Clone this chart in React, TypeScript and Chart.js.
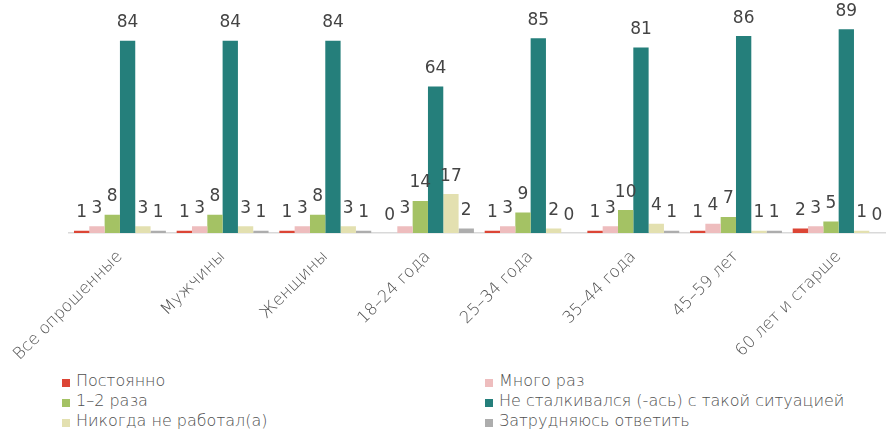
import React, { useEffect, useRef } from 'react';
import { Chart, registerables } from 'chart.js';

Chart.register(...registerables);

const categories = [
  'Все опрошенные',
  'Мужчины',
  'Женщины',
  '18–24 года',
  '25–34 года',
  '35–44 года',
  '45–59 лет',
  '60 лет и старше',
];

const seriesNames = [
  'Постоянно',
  'Много раз',
  '1–2 раза',
  'Не сталкивался (-ась) с такой ситуацией',
  'Никогда не работал(а)',
  'Затрудняюсь ответить',
];

const postoyanno = [1, 1, 1, 0, 1, 1, 1, 2];
const mnogoRaz = [3, 3, 3, 3, 3, 3, 4, 3];
const odinDvaRaza = [8, 8, 8, 14, 9, 10, 7, 5];
const neStalkivalsya = [84, 84, 84, 64, 85, 81, 86, 89];
const nikogdaNeRabotal = [3, 3, 3, 17, 2, 4, 1, 1];
const zatrudnyayus = [1, 1, 1, 2, 0, 1, 1, 0];

const seriesValues = [postoyanno, mnogoRaz, odinDvaRaza, neStalkivalsya, nikogdaNeRabotal, zatrudnyayus];
const seriesColors = ['#DC4535', '#EEBDBE', '#A4C264', '#257F7B', '#E3E0B0', '#ADADAD'];

const FONT = '"DejaVu Sans", "Open Sans", sans-serif';

const valueLabels = {
  id: 'valueLabels',
  afterDatasetsDraw(chart: any) {
    const ctx = chart.ctx;
    ctx.save();
    ctx.font = `17px ${FONT}`;
    ctx.fillStyle = '#444444';
    ctx.textAlign = 'center';
    ctx.textBaseline = 'alphabetic';
    chart.data.datasets.forEach((ds: any, i: number) => {
      const meta = chart.getDatasetMeta(i);
      meta.data.forEach((bar: any, j: number) => {
        ctx.fillText(String(ds.data[j]), bar.x, bar.y - 13.5);
      });
    });
    ctx.restore();
  },
};

export default function App() {
  const canvasRef = useRef<HTMLCanvasElement | null>(null);

  useEffect(() => {
    if (!canvasRef.current) return;
    const chart = new Chart(canvasRef.current, {
      type: 'bar',
      data: {
        labels: categories,
        datasets: seriesNames.map((name, i) => ({
          label: name,
          data: seriesValues[i],
          backgroundColor: seriesColors[i],
          borderWidth: 0,
          categoryPercentage: 0.895,
          barPercentage: 1,
        })),
      },
      options: {
        animation: false,
        responsive: false,
        maintainAspectRatio: false,
        layout: { padding: { left: 68.6, right: 2, top: 4, bottom: 0 } },
        plugins: {
          legend: { display: false },
          tooltip: { enabled: false },
        },
        scales: {
          x: {
            grid: { display: false },
            border: { display: true, color: '#D9D9D9', width: 1.5 },
            ticks: {
              autoSkip: false,
              minRotation: 45,
              maxRotation: 45,
              padding: 6,
              color: '#505050',
              font: { family: FONT, size: 16.5, weight: '200' as any },
            },
            afterFit: (scale: any) => {
              scale.height = 127;
            },
          },
          y: {
            display: false,
            min: 0,
            max: 100,
          },
        },
      },
      plugins: [valueLabels],
    });
    return () => chart.destroy();
  }, []);

  const legendRows = [
    [0, 1],
    [2, 3],
    [4, 5],
  ];
  const colX = [{ sq: 62, tx: 76 }, { sq: 485, tx: 499 }];

  return (
    <div
      style={{
        position: 'fixed',
        left: 0,
        top: 0,
        width: 886,
        height: 430,
        overflow: 'hidden',
        background: '#fff',
      }}
    >
      <div style={{ position: 'absolute', left: 0, top: 0, width: 892, height: 360 }}>
        <canvas ref={canvasRef} width={892} height={360} style={{ display: 'block', width: 892, height: 360 }} />
      </div>
      {legendRows.map((row, r) =>
        row.map((si, c) => (
          <React.Fragment key={si}>
            <div
              style={{
                position: 'absolute',
                left: colX[c].sq,
                top: 379 + r * 20,
                width: 8,
                height: 8,
                background: seriesColors[si],
              }}
            />
            <div
              style={{
                position: 'absolute',
                left: colX[c].tx,
                top: 371 + r * 20,
                height: 20,
                lineHeight: '20px',
                fontFamily: FONT,
                fontWeight: 200,
                fontSize: 16,
                color: '#505050',
                whiteSpace: 'nowrap',
              }}
            >
              {seriesNames[si]}
            </div>
          </React.Fragment>
        ))
      )}
    </div>
  );
}
